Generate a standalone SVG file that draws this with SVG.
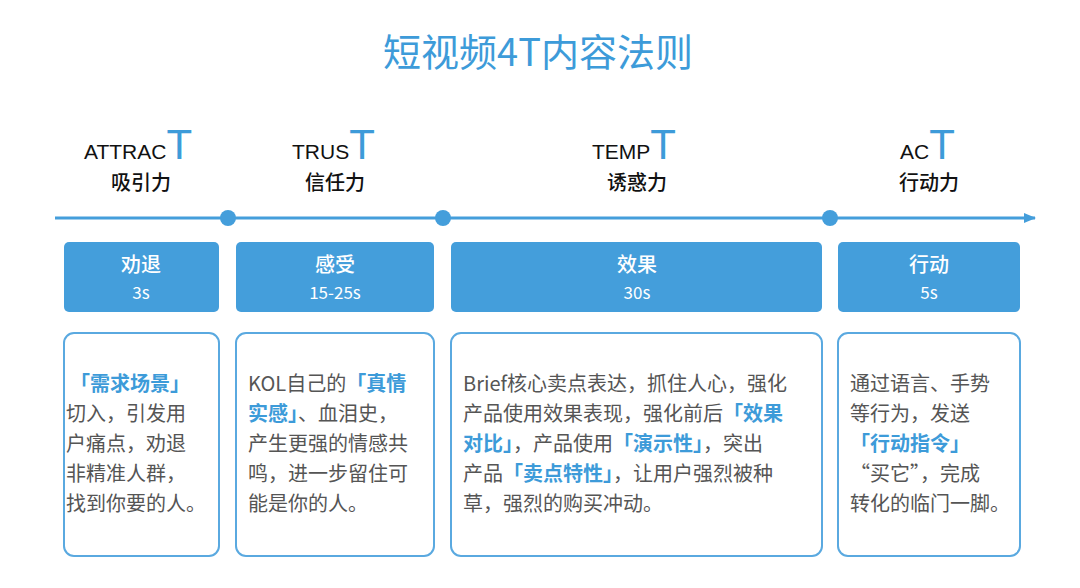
<svg xmlns="http://www.w3.org/2000/svg" width="1080" height="588" viewBox="0 0 1080 588">
<style>
text{font-family:"Noto Sans CJK SC","Noto Sans",sans-serif}
.title{font-size:38px;fill:#3d9bd9;text-anchor:middle}
.en{font-size:21px;fill:#111;font-family:"Liberation Sans","Noto Sans CJK SC",sans-serif}
.bt{font-size:42px;fill:#3d9bd9}
.cn{font-size:20px;fill:#111;text-anchor:middle;font-weight:500}
.hb{fill:#449edb}
.ht{fill:#fff;font-size:20px;text-anchor:middle;font-weight:500}
.hs{fill:#fff;font-size:17px;text-anchor:middle}
.cb{fill:#fff;stroke:#5aa9e0;stroke-width:2}
.body{font-size:20px;fill:#555}
.hl{fill:#3d9bd9;font-weight:bold}
.dot{fill:#449edb}
</style>
<defs><marker id="arr" markerWidth="12" markerHeight="10" refX="11" refY="5" orient="auto" markerUnits="userSpaceOnUse"><path d="M0,0 L12,5 L0,10 Z" fill="#449edb"/></marker></defs>
<text class="title" x="538" y="66">短视频4T内容法则</text>
<g id="connectors">
<line x1="55" y1="218" x2="1035" y2="218" stroke="#449edb" stroke-width="3" marker-end="url(#arr)"/>
<circle class="dot" cx="228" cy="218" r="8"/>
<circle class="dot" cx="443" cy="218" r="8"/>
<circle class="dot" cx="830" cy="218" r="8"/>
</g>
<g id="attract">
<text x="84" y="159" class="en">ATTRAC<tspan class="bt">T</tspan></text>
<text class="cn" x="141" y="190">吸引力</text>
<rect class="hb" x="64" y="242" width="155" height="70" rx="5"/>
<text class="ht" x="141" y="272">劝退</text><text class="hs" x="141" y="299">3s</text>
<rect class="cb" x="64" y="333" width="155" height="223" rx="10"/>
<text class="body" x="70" y="391"><tspan class="hl">「需求场景」</tspan><tspan x="66" dy="30">切入，引发用</tspan><tspan x="66" dy="30">户痛点，劝退</tspan><tspan x="66" dy="30">非精准人群，</tspan><tspan x="66" dy="30">找到你要的人。</tspan></text>
</g>
<g id="trust">
<text x="292" y="159" class="en">TRUS<tspan class="bt">T</tspan></text>
<text class="cn" x="335" y="190">信任力</text>
<rect class="hb" x="236" y="242" width="198" height="70" rx="5"/>
<text class="ht" x="335" y="272">感受</text><text class="hs" x="335" y="299">15-25s</text>
<rect class="cb" x="236" y="333" width="198" height="223" rx="10"/>
<text class="body" x="248" y="391">KOL自己的<tspan class="hl">「真情</tspan><tspan x="248" dy="30" class="hl">实感」</tspan>、血泪史，<tspan x="248" dy="30">产生更强的情感共</tspan><tspan x="248" dy="30">鸣，进一步留住可</tspan><tspan x="248" dy="30">能是你的人。</tspan></text>
</g>
<g id="tempt">
<text x="592" y="159" class="en">TEMP<tspan class="bt">T</tspan></text>
<text class="cn" x="637" y="190">诱惑力</text>
<rect class="hb" x="451" y="242" width="371" height="70" rx="5"/>
<text class="ht" x="637" y="272">效果</text><text class="hs" x="637" y="299">30s</text>
<rect class="cb" x="451" y="333" width="371" height="223" rx="10"/>
<text class="body" x="463" y="391">Brief核心卖点表达，抓住人心，强化<tspan x="463" dy="30">产品使用效果表现，强化前后</tspan><tspan class="hl">「效果</tspan><tspan x="463" dy="30" class="hl">对比」</tspan>，产品使用<tspan class="hl">「演示性」</tspan>，突出<tspan x="463" dy="30">产品</tspan><tspan class="hl">「卖点特性」</tspan>，让用户强烈被种<tspan x="463" dy="30">草，强烈的购买冲动。</tspan></text>
</g>
<g id="act">
<text x="900" y="159" class="en">AC<tspan class="bt">T</tspan></text>
<text class="cn" x="929" y="190">行动力</text>
<rect class="hb" x="838" y="242" width="182" height="70" rx="5"/>
<text class="ht" x="929" y="272">行动</text><text class="hs" x="929" y="299">5s</text>
<rect class="cb" x="838" y="333" width="182" height="223" rx="10"/>
<text class="body" x="850" y="391">通过语言、手势<tspan x="850" dy="30">等行为，发送</tspan><tspan x="850" dy="30" class="hl">「行动指令」</tspan><tspan x="850" dy="30">“买它”，完成</tspan><tspan x="850" dy="30">转化的临门一脚。</tspan></text>
</g>
</svg>
